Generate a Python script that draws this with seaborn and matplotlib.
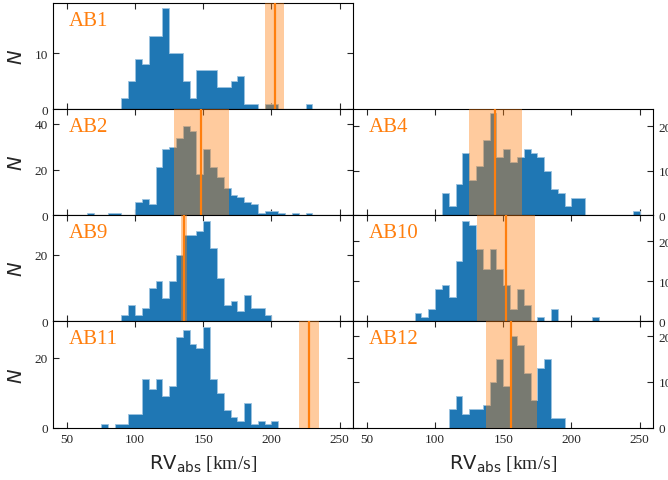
import numpy as np
import pandas as pd
import matplotlib
matplotlib.use("Agg")
import matplotlib.pyplot as plt
import seaborn as sns

# Radial-velocity histograms (5 km/s bins) per field, with the reference
# velocity of each object (line) and its uncertainty (shaded band).
BIN_WIDTH = 5

ab1_start = 90
ab1_counts = [2, 5, 9, 8, 13, 13, 18, 10, 10, 5, 2, 7, 7, 7, 4, 4, 5, 6, 1, 1, 0, 1, 1, 0, 0, 0, 0, 1]
ab1_rv, ab1_err = 202.5, 7.0

ab2_start = 65
ab2_counts = [1, 0, 0, 1, 1, 0, 0, 6, 7, 5, 21, 29, 30, 34, 39, 37, 18, 29, 21, 17, 12, 9, 8, 6, 5,
              1, 2, 2, 1, 0, 1, 0, 1]
ab2_rv, ab2_err = 148.5, 20.0

ab9_start = 90
ab9_counts = [2, 5, 2, 4, 10, 12, 7, 12, 20, 26, 26, 27, 30, 22, 13, 5, 6, 3, 8, 4, 4, 2]
ab9_rv, ab9_err = 136.0, 2.3

ab11_start = 75
ab11_counts = [1, 0, 1, 1, 4, 4, 14, 11, 14, 9, 12, 26, 28, 24, 23, 29, 14, 10, 5, 3, 2, 7, 1, 2, 1, 2]
ab11_rv, ab11_err = 227.5, 7.3

ab4_start = 105
ab4_counts = [5, 2, 7, 14, 8, 11, 17, 23, 13, 15, 12, 13, 15, 14, 13, 10, 6, 5, 2, 4, 4,
              0, 0, 0, 0, 0, 0, 0, 1]
ab4_rv, ab4_err = 144.0, 19.5

ab10_start = 85
ab10_counts = [2, 1, 3, 8, 9, 6, 15, 25, 24, 18, 13, 18, 13, 9, 3, 8, 4, 0, 1, 0, 3,
               0, 0, 0, 0, 0, 1]
ab10_rv, ab10_err = 152.0, 21.0

ab12_start = 110
ab12_counts = [4, 7, 3, 4, 4, 5, 10, 15, 9, 20, 18, 12, 6, 13, 15, 2, 2]
ab12_rv, ab12_err = 156.0, 19.0

panel_names = ["AB1", "AB2", "AB9", "AB11", "AB4", "AB10", "AB12"]
panel_starts = [ab1_start, ab2_start, ab9_start, ab11_start, ab4_start, ab10_start, ab12_start]
panel_counts = [ab1_counts, ab2_counts, ab9_counts, ab11_counts, ab4_counts, ab10_counts, ab12_counts]
panel_rv = [ab1_rv, ab2_rv, ab9_rv, ab11_rv, ab4_rv, ab10_rv, ab12_rv]
panel_err = [ab1_err, ab2_err, ab9_err, ab11_err, ab4_err, ab10_err, ab12_err]
panel_ymax = [18.9, 46.4, 31.8, 30.5, 23.8, 26.5, 23.2]
panel_yticks = [[0, 10], [0, 20, 40], [0, 20], [0, 20], [0, 10, 20], [0, 10, 20], [0, 10, 20]]
panel_cell = [(0, 0), (1, 0), (2, 0), (3, 0), (1, 1), (2, 1), (3, 1)]

x_ticks = [50, 100, 150, 200, 250]
x_limits = (40, 260)

sns.set_style("ticks")
plt.rcParams["font.family"] = ["Liberation Serif", "DejaVu Serif"]
plt.rcParams["mathtext.fontset"] = "dejavusans"

BLUE = "#1f77b4"
ORANGE = "#ff7f0e"

W, H = 668, 481
fig = plt.figure(figsize=(W / 100, H / 100), dpi=100)

left0, col_w = 53.3, 300.0
top0, row_h = 4.3, 106.05

for name, start, counts, rv, err, ymax, yt, (row, col) in zip(
        panel_names, panel_starts, panel_counts, panel_rv, panel_err,
        panel_ymax, panel_yticks, panel_cell):
    x0 = left0 + col * col_w
    y_top = top0 + row * row_h
    ax = fig.add_axes([x0 / W, 1 - (y_top + row_h) / H, col_w / W, row_h / H])

    n_bins = len(counts)
    df = pd.DataFrame({
        "rv": start + BIN_WIDTH * (np.arange(n_bins) + 0.5),
        "n": np.asarray(counts, dtype=float),
    })

    sns.histplot(data=df, x="rv", weights="n", binwidth=BIN_WIDTH,
                 binrange=(start, start + BIN_WIDTH * n_bins),
                 element="step", fill=True, color=BLUE, alpha=1.0,
                 edgecolor="#9cc3e0", linewidth=0.6, ax=ax, zorder=2)
    ax.axvspan(rv - err, rv + err, color=ORANGE, alpha=0.4, lw=0, zorder=3)
    ax.axvline(rv, color=ORANGE, lw=1.6, zorder=4)

    ax.set_xlim(*x_limits)
    ax.set_ylim(0, ymax)
    ax.set_xticks(x_ticks)
    ax.set_yticks(yt)

    ax.text(0.052, 0.8, name, transform=ax.transAxes, color=ORANGE,
            fontsize=15, ha="left", va="baseline", zorder=5)

    ax.tick_params(direction="in", top=True, bottom=True, left=True, right=True,
                   length=4, width=0.8, labelsize=9.5, pad=4,
                   labelbottom=(row == 3), labeltop=False,
                   labelleft=(col == 0), labelright=(col == 1))
    for sp in ax.spines.values():
        sp.set_linewidth(0.8)
        sp.set_color("black")

    ax.set_ylabel("")
    ax.set_xlabel("")
    if col == 0:
        ax.set_ylabel(r"$N$", fontsize=14)
        ax.yaxis.set_label_coords(-0.09, 0.5)
    if row == 3:
        ax.set_xlabel(r"$\mathrm{RV}_{\mathrm{abs}}$ [km/s]", fontsize=14)
        ax.xaxis.set_label_coords(0.5, -0.24)

fig.savefig("out.png", dpi=100)
